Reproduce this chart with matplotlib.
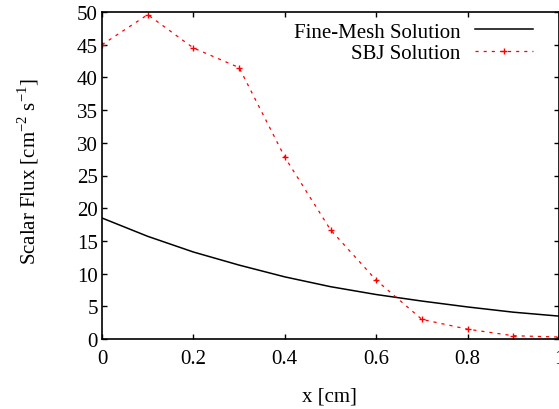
import matplotlib
matplotlib.use("Agg")
from matplotlib import pyplot as plt

# x positions (cm)
x_pts = [0.0, 0.1, 0.2, 0.3, 0.4, 0.5, 0.6, 0.7, 0.8, 0.9, 1.0]

# fine-mesh reference solution
fine_mesh = [18.5, 15.7, 13.3, 11.3, 9.5, 8.0, 6.8, 5.8, 4.9, 4.1, 3.5]

# SBJ solution points
sbj = [45.0, 49.6, 44.5, 41.5, 27.8, 16.7, 9.0, 3.0, 1.5, 0.5, 0.3]

x_ticks = [0, 0.2, 0.4, 0.6, 0.8, 1]
x_tick_labels = ["0", "0.2", "0.4", "0.6", "0.8", "1"]
y_ticks = [0, 5, 10, 15, 20, 25, 30, 35, 40, 45, 50]

plt.rcParams['font.family'] = ['Liberation Serif', 'DejaVu Serif']
plt.rcParams['mathtext.fontset'] = 'custom'
plt.rcParams['mathtext.rm'] = 'Liberation Serif'

W, H = 559, 410
fig = plt.figure(figsize=(W / 100, H / 100), dpi=100)
ax = fig.add_axes([102 / W, 1 - 340 / H, (W - 102) / W, (340 - 13) / H])

ax.plot(x_pts, fine_mesh, color='black', lw=1.1, label='Fine-Mesh Solution')
ax.plot(x_pts, sbj, color='red', lw=0.9, ls=(0, (2.5, 4)), marker='+', ms=5,
        mew=1.0, label='SBJ Solution')

ax.set_xlim(0, 1)
ax.set_ylim(0, 50)
ax.set_xticks(x_ticks)
ax.set_xticklabels(x_tick_labels)
ax.set_yticks(y_ticks)
ax.tick_params(direction='in', top=True, right=True, length=3.6, width=1,
               labelsize=15)
ax.tick_params(axis='x', pad=7)
ax.tick_params(axis='y', pad=3)
for s in ax.spines.values():
    s.set_linewidth(1.2)

ax.set_xlabel('x [cm]', fontsize=15)
ax.xaxis.label.set_va('center')
ax.xaxis.set_label_coords(0.497, -(397 - 340) / 327)
ax.set_ylabel(r'Scalar Flux [cm$^{\mathrm{-2}}$ s$^{\mathrm{-1}}$]', fontsize=15)
ax.yaxis.label.set_va('center')
ax.yaxis.set_label_coords(-(102 - 28) / 457, (340 - 172) / 327)

leg = ax.legend(loc='upper right', bbox_to_anchor=(1 - 22 / 457, 1 - 6 / 327),
                markerfirst=False, frameon=False, fontsize=15,
                handlelength=2.8, borderaxespad=0, borderpad=0.2,
                labelspacing=0.08, handletextpad=0.67)
for t in leg.get_texts():
    t.set_ha('right')

fig.savefig('out.png', dpi=100)
